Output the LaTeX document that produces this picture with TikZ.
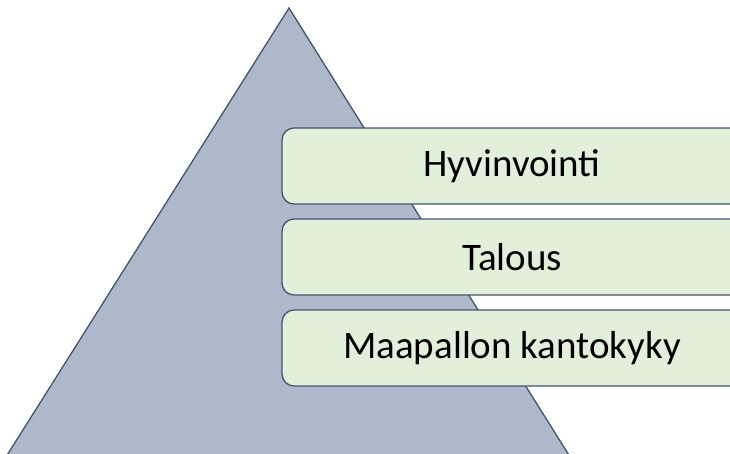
\documentclass[tikz,border=0pt]{standalone}
\usepackage{fontspec}
\setmainfont{Carlito}
\usetikzlibrary{positioning}
\definecolor{cslate}{HTML}{ADB9CA}
\definecolor{cline}{HTML}{44546A}
\definecolor{cmint}{HTML}{E2EFDA}
\tikzset{
  every picture/.style={line width=1.3pt},
  layer/.style={draw=cline, fill=cmint, rounded corners=12pt, minimum width=460pt, minimum height=76pt, outer sep=0pt, inner sep=0pt, font=\fontsize{39}{44}\selectfont},
  pyramid/.style={draw=cline, fill=cslate, line join=miter},
}

\begin{document}
\begin{tikzpicture}[x=1pt, y=-1pt]
  \useasboundingbox (0,0) rectangle (730,453);
  \clip (0,0) rectangle (730,453);
  % pyramid behind the layers
  \draw[pyramid] (289,8) -- (572,460) -- (4,460) -- cycle;
  % layers, top to bottom
  \node[layer, anchor=north west] (hyvinvointi) at (282,128) {Hyvinvointi};
  \node[layer, below=15pt of hyvinvointi] (talous) {Talous};
  \node[layer, below=15pt of talous] (kantokyky) {Maapallon kantokyky};
\end{tikzpicture}
\end{document}
